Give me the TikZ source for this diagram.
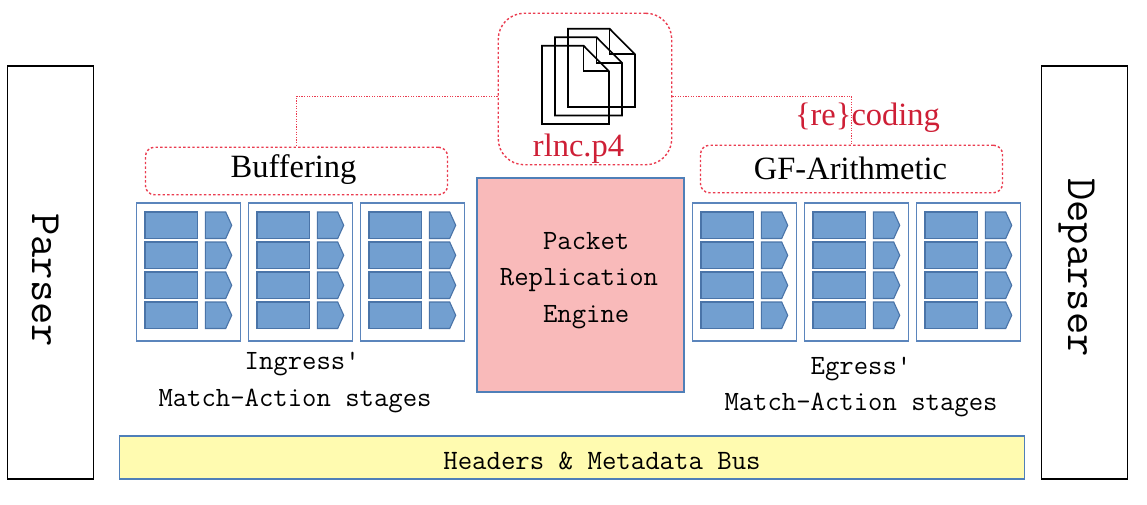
\documentclass[tikz,border=0pt]{standalone}
\usepackage{fontspec}
\setmainfont{Liberation Serif}
\setmonofont{Latin Modern Mono}
\definecolor{tablefill}{HTML}{729FD0}
\definecolor{tableedge}{HTML}{4A74A8}
\definecolor{stageedge}{HTML}{5B85BC}
\definecolor{dotred}{HTML}{EA3C50}
\definecolor{labelred}{HTML}{CE1F36}
\definecolor{engineedge}{HTML}{4F7FB8}
\definecolor{enginefill}{HTML}{F9BABA}
\definecolor{busfill}{HTML}{FFFBB0}
\tikzset{
  x=1pt, y=-1pt,
  plain/.style={draw=black, line width=1.1pt, fill=white, inner sep=0pt, minimum width=86pt, minimum height=413pt},
  bigmono/.style={font=\ttfamily\fontsize{43.3}{43}\selectfont, rotate=-90},
  midmono/.style={font=\ttfamily\fontsize{27.9}{36.5}\selectfont, align=center, inner sep=0pt},
  serifbig/.style={font=\fontsize{32.5}{36}\selectfont, inner sep=0pt},
  groupbox/.style={draw=dotred, line width=1.4pt, dash pattern=on 2.4pt off 2.2pt, rounded corners=9pt, inner sep=0pt, minimum width=302pt, minimum height=47.5pt},
  link/.style={draw=dotred, line width=0.8pt, dash pattern=on 1.2pt off 1.4pt},
  stagebox/.style={draw=stageedge, line width=1.1pt, fill=white, inner sep=0pt, minimum width=104pt, minimum height=138pt},
  tablerow/.style={draw=tableedge, line width=1.1pt, fill=tablefill},
  sheet/.style={draw=black, line width=1.7pt},
}
% one match-action stage: frame with four rows of table + action
\newcommand{\stagecolumn}[2]{%
  \node[stagebox] (#2) at (#1+52,272) {};
  \foreach \rowtop in {212,242,272,302}{
    \draw[tablerow] (#1+8.3,\rowtop) rectangle (#1+61,\rowtop+26.5);
    \draw[tablerow] (#1+68.6,\rowtop) -- (#1+89,\rowtop) -- (#1+95,\rowtop+13.25)
      -- (#1+89,\rowtop+26.5) -- (#1+68.6,\rowtop+26.5) -- cycle;
  }%
}
% one sheet of the program-file icon, folded corner at top right
\newcommand{\sheeticon}[2]{%
  \draw[sheet] (#1,#2) -- (#1+41.5,#2) -- (#1+67,#2+25.6) -- (#1+67,#2+78.3) -- (#1,#2+78.3) -- cycle;
  \draw[sheet] (#1+41.5,#2) -- (#1+41.5,#2+25.6) -- (#1+67,#2+25.6);
}
\begin{document}
\begin{tikzpicture}
  \useasboundingbox (0,0) rectangle (1147,504);

  % pipeline ends
  \node[plain] (parser) at (50.5,272.5) {};
  \node[bigmono] (parsertext) at (46,280) {Parser};
  \node[plain] (deparser) at (1084.5,272.5) {};
  \node[bigmono] (deparsertext) at (1077,267.5) {Deparser};

  % program file group
  \node[groupbox, minimum width=173.5pt, minimum height=151.5pt, rounded corners=26pt] (rlnc) at (585,89) {};
  \sheeticon{568}{28.7}
  \sheeticon{555}{37.2}
  \sheeticon{542}{45.7}
  \node[serifbig, text=labelred] (rlnctext) at (578.5,148.5) {rlnc.p4};

  % function groups
  \node[groupbox] (buffering) at (296.5,171) {};
  \node[serifbig] (bufferingtext) at (293.5,170) {Buffering};
  \node[groupbox] (gf) at (851.5,169) {};
  \node[serifbig] (gftext) at (850.5,168.5) {GF-Arithmetic};
  \node[serifbig, text=labelred] (recoding) at (867.5,118) {\{re\}coding};

  % dotted links from the program file
  \coordinate (leftout) at (rlnc.west |- 0,96);
  \coordinate (rightout) at (rlnc.east |- 0,96);
  \draw[link] (leftout) -| (buffering.north);
  \draw[link] (rightout) -| (gf.north);

  % match-action stages
  \stagecolumn{136.7}{ing1}
  \stagecolumn{248.7}{ing2}
  \stagecolumn{360.7}{ing3}
  \stagecolumn{692.7}{eg1}
  \stagecolumn{804.7}{eg2}
  \stagecolumn{916.7}{eg3}

  \node[midmono] (ingress) at (295,382.5) {~Ingress'\\Match-Action stages};
  \node[midmono] (egress) at (861,387) {Egress'\\Match-Action stages};

  % replication engine and metadata bus
  \node[draw=engineedge, line width=1.1pt, fill=enginefill, inner sep=0pt, minimum width=207pt, minimum height=214pt] (pre) at (580.5,285) {};
  \node[midmono] (pretext) at (579,280.5) {~Packet\\Replication\\~Engine};
  \node[draw=engineedge, line width=1.1pt, fill=busfill, inner sep=0pt, minimum width=905pt, minimum height=43pt] (bus) at (572,457.5) {};
  \node[font=\ttfamily\fontsize{28}{30}\selectfont, inner sep=0pt] (bustext) at (602,461) {Headers \& Metadata Bus};
\end{tikzpicture}
\end{document}
